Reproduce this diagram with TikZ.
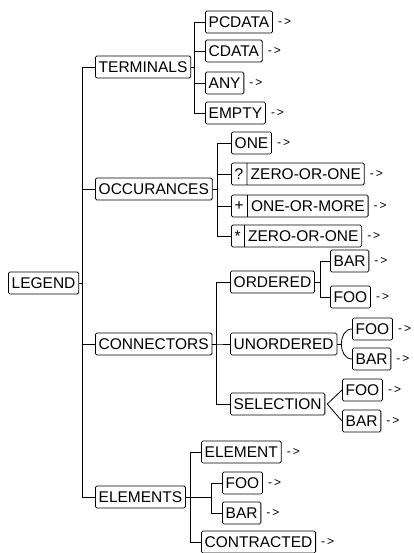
\documentclass[tikz,border=0pt]{standalone}
\usepackage{fontspec}
\setmainfont{Liberation Sans}
\usetikzlibrary{positioning, shapes.multipart}

\begin{document}
\begin{tikzpicture}[x=1pt, y=-1pt,
    box/.style={draw, rounded corners=1.5pt, line width=0.8pt, minimum height=22pt,
        inner xsep=3.3pt, inner ysep=0pt, anchor=west, font=\fontsize{15.5}{18}\selectfont},
    pair/.style={box, rectangle split, rectangle split horizontal, rectangle split parts=2},
    arr/.style={inner sep=0pt, font=\fontsize{12}{14}\selectfont},
    link/.style={line width=0.8pt}]
    \useasboundingbox (0,0) rectangle (413,553);

    \node[box] (legend) at (8,283) {LEGEND};

    \node[box] (terminals) at (95,67) {TERMINALS};
    \node[box] (occur) at (95,189) {OCCURANCES};
    \node[box] (conn) at (95,344) {CONNECTORS};
    \node[box] (elems) at (95,497) {ELEMENTS};

    \node[box] (pcdata) at (205,22) {PCDATA};
    \node[box] (cdata) at (205,51) {CDATA};
    \node[box] (any) at (205,83) {ANY};
    \node[box] (empty) at (205,113) {EMPTY};

    \node[box] (one) at (231,143) {ONE};
    \node[pair] (zoo) at (231,174) {?\nodepart{two}ZERO-OR-ONE};
    \node[pair] (oom) at (231,206) {+\nodepart{two}ONE-OR-MORE};
    \node[pair] (zom) at (231,236) {*\nodepart{two}ZERO-OR-ONE};

    \node[box] (ord) at (230,282) {ORDERED};
    \node[box] (unord) at (230,344) {UNORDERED};
    \node[box] (sel) at (230,404) {SELECTION};

    \node[box] (obar) at (330,261) {BAR};
    \node[box] (ofoo) at (330,297) {FOO};
    \node[box] (ufoo) at (352,329) {FOO};
    \node[box] (ubar) at (352,359) {BAR};
    \node[box] (sfoo) at (342,390) {FOO};
    \node[box] (sbar) at (342,421) {BAR};

    \node[box] (element) at (201,452) {ELEMENT};
    \node[box] (efoo) at (222,483) {FOO};
    \node[box] (ebar) at (222,513) {BAR};
    \node[box] (contr) at (201,542) {CONTRACTED};

    \foreach \n in {pcdata,cdata,any,empty,one,zoo,oom,zom,obar,ofoo,ufoo,ubar,sfoo,sbar,element,efoo,ebar,contr}
        \node[arr, right=5pt of \n] (\n-arr) {-\,>};

    \foreach \c in {terminals,occur,conn,elems}
        \draw[link] (legend.east) -- ++(3,0) |- (\c.west);
    \foreach \c in {pcdata,cdata,any,empty}
        \draw[link] (terminals.east) -- ++(3,0) |- (\c.west);
    \foreach \c in {one,zoo,oom,zom}
        \draw[link] (occur.east) -- ++(5,0) |- (\c.west);
    \foreach \c in {ord,unord,sel}
        \draw[link] (conn.east) -- ++(4,0) |- (\c.west);
    \foreach \c in {obar,ofoo}
        \draw[link] (ord.east) -- ++(5,0) |- (\c.west);
    \draw[link] (unord.east) -- ++(4,0) coordinate (uv);
    \draw[link] (ufoo.west) to[out=180, in=90] (uv) to[out=-90, in=180] (ubar.west);
    \draw[link] (sfoo.west) -- ([xshift=2pt]sel.east) -- (sbar.west);
    \foreach \c in {element,contr}
        \draw[link] (elems.east) -- ++(4,0) |- (\c.west);
    \foreach \c in {efoo,ebar}
        \draw[link] (elems.east) -- ++(25,0) |- (\c.west);
\end{tikzpicture}
\end{document}
